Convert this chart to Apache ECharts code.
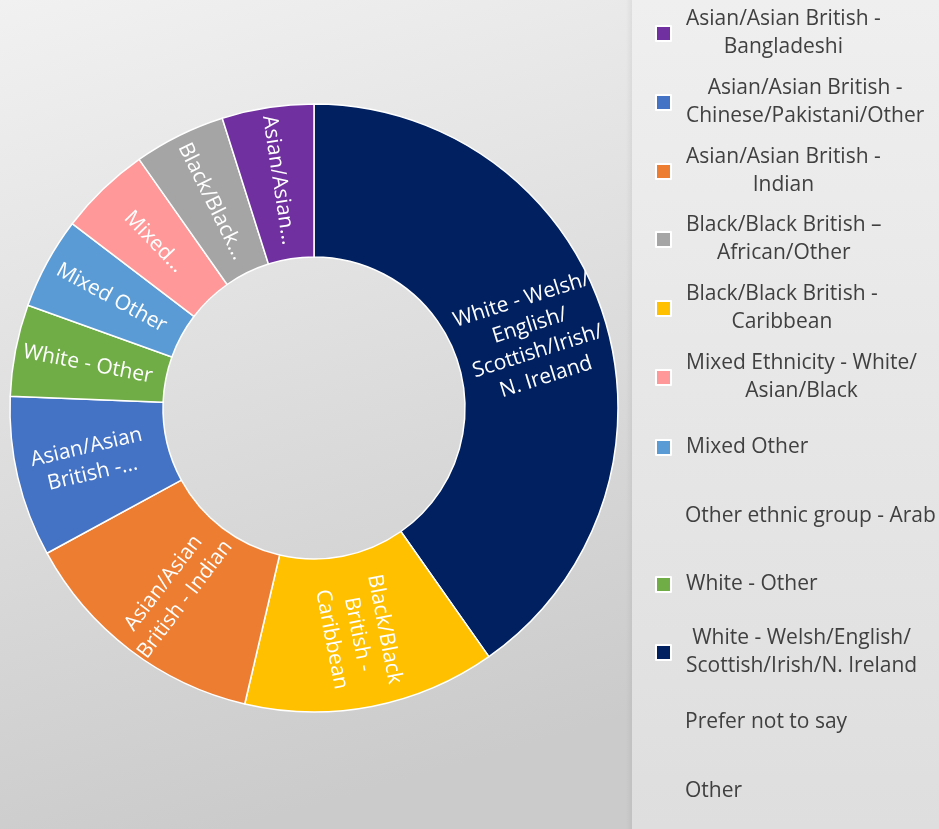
<!DOCTYPE html>
<html>
<head>
<meta charset="utf-8">
<script src="https://cdn.jsdelivr.net/npm/echarts@6/dist/echarts.min.js"></script>
<style>
html,body{margin:0;padding:0;width:939px;height:829px;overflow:hidden;}
#chart{width:939px;height:829px;}
</style>
</head>
<body>
<div id="chart"></div>
<script>
// Slice order (clockwise from 12 o'clock)
const categories = [
  "White - Welsh/English/Scottish/Irish/N. Ireland",
  "Black/Black British - Caribbean",
  "Asian/Asian British - Indian",
  "Asian/Asian British - Chinese/Pakistani/Other",
  "White - Other",
  "Mixed Other",
  "Mixed Ethnicity - White/Asian/Black",
  "Black/Black British – African/Other",
  "Asian/Asian British - Bangladeshi",
  "Other ethnic group - Arab",
  "Prefer not to say",
  "Other"
];
const values = [33, 11, 11, 7, 4, 4, 4, 4, 4, 0, 0, 0];
const sliceLabels = [
  "White - Welsh/\nEnglish/\nScottish/Irish/\nN. Ireland",
  "Black/Black\nBritish -\nCaribbean",
  "Asian/Asian\nBritish - Indian",
  "Asian/Asian\nBritish -...",
  "White - Other",
  "Mixed Other",
  "Mixed...",
  "Black/Black...",
  "Asian/Asian...",
  "", "", ""
];
const colors = ["#002060", "#FFC000", "#ED7D31", "#4472C4", "#70AD47", "#5B9BD5", "#FF9999", "#A5A5A5", "#7030A0",
  "rgba(0,0,0,0)", "rgba(0,0,0,0)", "rgba(0,0,0,0)"];

// Legend order and wrapped legend text
const legendOrder = [
  "Asian/Asian British - Bangladeshi",
  "Asian/Asian British - Chinese/Pakistani/Other",
  "Asian/Asian British - Indian",
  "Black/Black British – African/Other",
  "Black/Black British - Caribbean",
  "Mixed Ethnicity - White/Asian/Black",
  "Mixed Other",
  "Other ethnic group - Arab",
  "White - Other",
  "White - Welsh/English/Scottish/Irish/N. Ireland",
  "Prefer not to say",
  "Other"
];
const legendLines = {
  "Asian/Asian British - Bangladeshi": ["Asian/Asian British -", "Bangladeshi"],
  "Asian/Asian British - Chinese/Pakistani/Other": ["Asian/Asian British -", "Chinese/Pakistani/Other"],
  "Asian/Asian British - Indian": ["Asian/Asian British -", "Indian"],
  "Black/Black British – African/Other": ["Black/Black British –", "African/Other"],
  "Black/Black British - Caribbean": ["Black/Black British -", "Caribbean"],
  "Mixed Ethnicity - White/Asian/Black": ["Mixed Ethnicity - White/", "Asian/Black"],
  "Mixed Other": ["Mixed Other"],
  "Other ethnic group - Arab": ["Other ethnic group - Arab"],
  "White - Other": ["White - Other"],
  "White - Welsh/English/Scottish/Irish/N. Ireland": ["White - Welsh/English/", "Scottish/Irish/N. Ireland"],
  "Prefer not to say": ["Prefer not to say"],
  "Other": ["Other"]
};

const pieData = categories.map((name, i) => {
  const zero = values[i] === 0;
  return {
    name: name,
    value: values[i],
    itemStyle: zero ? { color: colors[i], borderWidth: 0 } : { color: colors[i] },
    label: zero ? { show: false } : { show: true, formatter: sliceLabels[i] }
  };
});

const FONT = 'Open Sans';
const textRich = {
  c: { fontFamily: FONT, fontSize: 21, color: '#404040', lineHeight: 28, align: 'center' }
};

// one legend component per entry so that entries sit on an even pitch
const legends = legendOrder.map((name, i) => {
  const nLines = legendLines[name].length;
  const centerY = 32 + i * 68.8;
  const idx = categories.indexOf(name);
  const zero = values[idx] === 0;
  return {
    orient: 'vertical',
    left: 655,
    top: Math.round(centerY - (nLines === 2 ? 23 : 8)),
    padding: 0,
    itemWidth: 15,
    itemHeight: 15,
    selectedMode: false,
    icon: 'rect',
    data: [zero ? { name: name, itemStyle: { color: 'rgba(0,0,0,0)', borderWidth: 0, opacity: 0 } } : { name: name }],
    formatter: function (n) {
      return legendLines[n].map(l => '{c|' + l + '}').join('\n');
    },
    textStyle: {
      fontFamily: FONT,
      fontSize: 21,
      color: '#404040',
      padding: [0, 0, 0, 10],
      rich: textRich
    }
  };
});

const chart = echarts.init(document.getElementById('chart'), null, { renderer: 'canvas' });
chart.setOption({
  animation: false,
  backgroundColor: {
    type: 'linear', x: 0, y: 0, x2: 0.25, y2: 1,
    colorStops: [{ offset: 0, color: '#f1f1f1' }, { offset: 1, color: '#cbcbcb' }]
  },
  graphic: [
    {
      type: 'rect', left: 626, top: 0, z: -10, silent: true,
      shape: { width: 6, height: 829 },
      style: { fill: { type: 'linear', x: 0, y: 0, x2: 1, y2: 0, colorStops: [{ offset: 0, color: 'rgba(0,0,0,0)' }, { offset: 1, color: 'rgba(0,0,0,0.05)' }] } }
    },
    {
      type: 'rect', left: 632, top: 0, z: -10, silent: true,
      shape: { width: 307, height: 829 },
      style: { fill: { type: 'linear', x: 0, y: 0, x2: 0, y2: 1, colorStops: [{ offset: 0, color: '#efefef' }, { offset: 1, color: '#dedede' }] } }
    }
  ],
  legend: legends,
  series: [{
    type: 'pie',
    center: [314, 408],
    radius: [151, 304],
    startAngle: 90,
    clockwise: true,
    avoidLabelOverlap: false,
    stillShowZeroSum: true,
    itemStyle: { borderColor: '#ffffff', borderWidth: 1.5 },
    label: {
      position: 'inside',
      rotate: 'radial',
      color: '#ffffff',
      fontFamily: FONT,
      fontSize: 21,
      lineHeight: 27,
      align: 'center'
    },
    labelLine: { show: false },
    emphasis: { disabled: true },
    data: pieData
  }]
});
</script>
</body>
</html>
